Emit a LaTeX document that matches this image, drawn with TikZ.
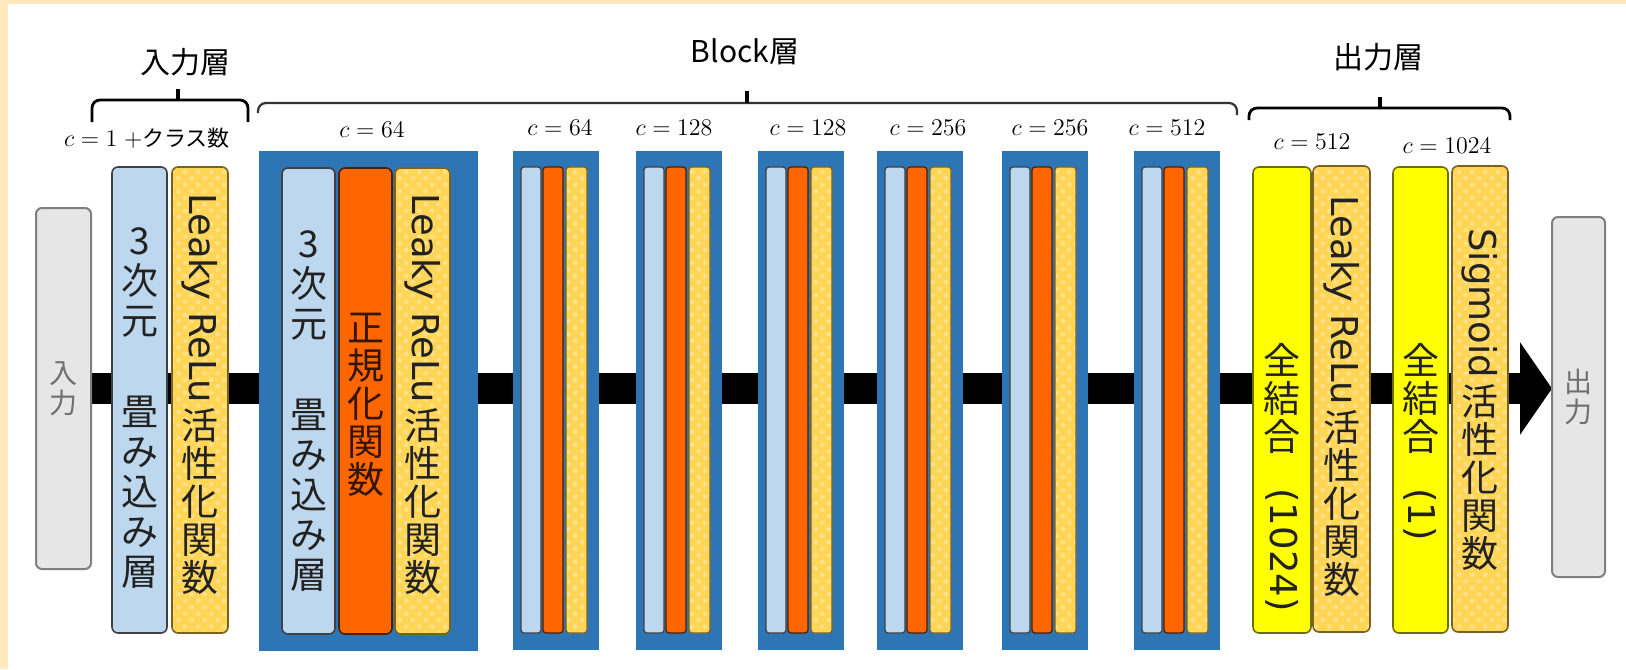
\documentclass[tikz,border=0pt]{standalone}
\usepackage{fontspec}
\usepackage{graphicx}
\newfontfamily\jp{Noto Sans CJK JP}
\newfontfamily\dv{DejaVu Sans}
\usetikzlibrary{arrows.meta,patterns,backgrounds}
\definecolor{bgorange}{HTML}{FFE9BD}
\definecolor{lblue}{HTML}{BDD7EE}
\definecolor{lbdraw}{HTML}{404040}
\definecolor{orng}{HTML}{FF6600}
\definecolor{orngdraw}{HTML}{4A2000}
\definecolor{goldf}{HTML}{FFD556}
\definecolor{golddots}{HTML}{FFE18A}
\definecolor{golddraw}{HTML}{7A6320}
\definecolor{ylw}{HTML}{FFFF00}
\definecolor{ylwdraw}{HTML}{6B6B10}
\definecolor{blk}{HTML}{2E75B6}
\definecolor{iofill}{HTML}{E6E6E6}
\definecolor{iodraw}{HTML}{7F7F7F}
\definecolor{iotext}{HTML}{707070}
\definecolor{txt}{HTML}{222222}
\definecolor{ntxt}{HTML}{331500}
\pgfdeclarepatternformonly{gdots}{\pgfqpoint{-1pt}{-1pt}}{\pgfqpoint{7.5pt}{7.5pt}}{\pgfqpoint{6.5pt}{6.5pt}}{%
  \pgfpathcircle{\pgfqpoint{1.6pt}{1.6pt}}{1.2pt}%
  \pgfpathcircle{\pgfqpoint{4.85pt}{4.85pt}}{1.2pt}%
  \pgfusepath{fill}}
\newcommand\barnode[6]{%
  \node[#2, minimum width={((#4)-(#3))*0.5pt}, minimum height={((#6)-(#5))*0.5pt}]
    (#1) at ({((#3)+(#4))/2},{((#5)+(#6))/2}) {};}
\newcommand\vgap[1]{\rule{0pt}{#1}}
\begin{document}
\begin{tikzpicture}[x=0.5pt,y=-0.5pt,
  bar/.style={draw, line width=0.8pt, rounded corners=3pt, inner sep=0pt, outer sep=0pt},
  sbar/.style={draw, line width=0.6pt, rounded corners=1.5pt, inner sep=0pt, outer sep=0pt},
  lb/.style={bar, fill=lblue, draw=lbdraw},
  or/.style={bar, fill=orng, draw=orngdraw},
  gold/.style={bar, preaction={fill=goldf}, pattern=gdots, pattern color=golddots, draw=golddraw},
  slb/.style={sbar, fill=lblue, draw=lbdraw},
  sor/.style={sbar, fill=orng, draw=orngdraw},
  sgold/.style={sbar, preaction={fill=goldf}, pattern=gdots, pattern color=golddots, draw=golddraw},
  yl/.style={bar, fill=ylw, draw=ylwdraw},
  blue/.style={fill=blk, inner sep=0pt, outer sep=0pt},
  iobox/.style={bar, fill=iofill, draw=iodraw, line width=1pt, align=center,
     text=iotext, font=\jp\fontsize{14}{15}\selectfont},
  vt/.style={font=\jp\fontsize{18.5}{19}\selectfont, align=center,
     inner sep=0pt, anchor=north, text=txt},
  vtc/.style={vt, font=\jp\fontsize{18.5}{20}\selectfont},
  hdr/.style={font=\jp\fontsize{15}{18}\selectfont, inner sep=0pt},
  cl/.style={font=\fontsize{12.5}{14}\selectfont, inner sep=0pt},
  brc/.style={line width=1.4pt, rounded corners=4pt},
  brcb/.style={line width=1.1pt, rounded corners=4pt, draw=black!80}
]
\lineskip=3pt
\useasboundingbox (0,0) rectangle (1626,669);
\begin{scope}[on background layer]
  \fill[bgorange] (0,0) rectangle (1626,669);
  \fill[white] (8,4) rectangle (1626,669);
\end{scope}

% input / output
\node[iobox, minimum width=27.5pt, minimum height=180.5pt] (inp) at (63.5,388.5) {入\\力};
\node[iobox, minimum width=26.5pt, minimum height=180pt] (outp) at (1578.5,397) {出\\力};

% input layer
\barnode{conv0}{lb}{112}{167}{167}{633}
\barnode{act0}{gold}{172}{228}{167}{633}

% first block
\barnode{blk1}{blue}{259}{478}{151}{651}
\barnode{conv1}{lb}{282}{335}{168}{634}
\barnode{norm1}{or}{339}{392}{168}{634}
\barnode{act1}{gold}{395}{450}{168}{634}

% small blocks
\foreach \i/\L in {2/513,3/636,4/758,5/877,6/1002,7/1134}{
  \barnode{blk\i}{blue}{\L}{\L+86}{151}{650}
  \barnode{conv\i}{slb}{\L+8}{\L+28}{167}{633}
  \barnode{norm\i}{sor}{\L+30}{\L+50}{167}{633}
  \barnode{act\i}{sgold}{\L+53}{\L+74}{167}{633}
}

% output layer
\barnode{fc1}{yl}{1253}{1311}{167}{633}
\barnode{act8}{gold}{1313}{1370}{166}{632}
\barnode{fc2}{yl}{1393}{1448}{167}{633}
\barnode{sig}{gold}{1452}{1508}{166}{632}

% main arrow
\begin{scope}[on background layer]
  \draw[line width=15.5pt, -{Triangle[length=16pt,width=45.5pt]}] (inp.east) -- (inp.east -| outp.west);
\end{scope}

% vertical texts
\node[vtc] (t0) at (139.5,227) {3\\次\\元\\\vgap{21pt}\\畳\\み\\込\\み\\層};
\node[vt] (t1) at (200,193) {\rotatebox{-90}{\dv Leaky ReLu}\\活\\性\\化\\関\\数};
\node[vtc] (t2) at (308.5,230) {3\\次\\元\\\vgap{21pt}\\畳\\み\\込\\み\\層};
\node[vt, text=ntxt] (t3) at (365.5,313) {正\\規\\化\\関\\数};
\node[vt] (t4) at (422.5,193) {\rotatebox{-90}{\dv Leaky ReLu}\\活\\性\\化\\関\\数};
\node[vt] (t5) at (1282,343) {全\\結\\合\\\rotatebox{-90}{\dv (1024)}};
\node[vt] (t6) at (1341.5,195) {\rotatebox{-90}{\dv Leaky ReLu}\\活\\性\\化\\関\\数};
\node[vt] (t7) at (1420.5,343) {全\\結\\合\\\rotatebox{-90}{\dv (1)}};
\node[vt] (t8) at (1480,228) {\rotatebox{-90}{\dv Sigmoid}\\活\\性\\化\\関\\数};

% headers
\node[hdr] (h1) at (185,62) {入力層};
\node[hdr] (h2) at (745,52) {Block層};
\node[hdr] (h3) at (1378,57) {出力層};

% braces
\draw[brc] (92,122) |- (248,100) -- (248,122);
\draw[line width=2pt] (178,100) -- (178,89);
\draw[brcb] (258,113) |- (1237,103) -- (1237,115);
\draw[line width=2pt] (747,103) -- (747,91);
\draw[brc] (1249,120) |- (1510,108) -- (1510,120);
\draw[line width=2pt] (1380,108) -- (1380,97);

% channel labels
\node[cl] (c0) at (147,138) {$c = 1\;{+}$\jp\fontsize{11}{13}\selectfont クラス数};
\node[cl] (c1) at (372,130) {$c = 64$};
\node[cl] (c2) at (560,128) {$c = 64$};
\node[cl] (c3) at (674,128) {$c = 128$};
\node[cl] (c4) at (808,128) {$c = 128$};
\node[cl] (c5) at (928,128) {$c = 256$};
\node[cl] (c6) at (1050,128) {$c = 256$};
\node[cl] (c7) at (1167,128) {$c = 512$};
\node[cl] (c8) at (1312,142) {$c = 512$};
\node[cl] (c9) at (1447,146) {$c = 1024$};
\end{tikzpicture}
\end{document}
